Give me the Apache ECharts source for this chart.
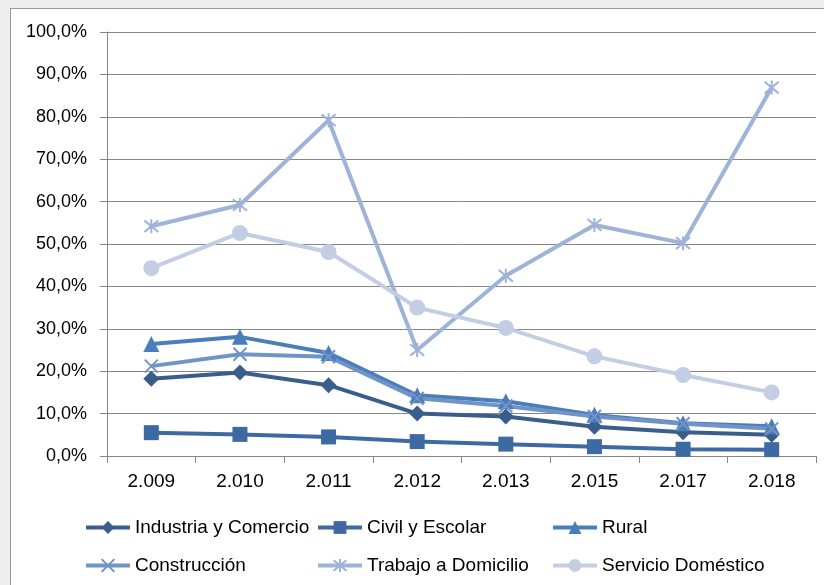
<!DOCTYPE html>
<html>
<head>
<meta charset="utf-8">
<script src="https://cdn.jsdelivr.net/npm/echarts@6/dist/echarts.min.js"></script>
<style>
html,body{margin:0;padding:0;background:#eeeeee;width:824px;height:585px;overflow:hidden;}
#frame{position:absolute;left:10px;top:8px;width:900px;height:700px;background:#ffffff;border:1px solid #9a9a9a;}
#chart{position:absolute;left:0;top:0;width:824px;height:585px;}
</style>
</head>
<body>
<div id="frame"></div>
<div id="chart"></div>
<script>
const categories = ['2.009','2.010','2.011','2.012','2.013','2.015','2.017','2.018'];
const yTicks = [0,10,20,30,40,50,60,70,80,90,100];
const industria = [18.2, 19.7, 16.7, 10.0, 9.3, 6.9, 5.6, 5.0];
const civil = [5.5, 5.1, 4.5, 3.4, 2.8, 2.2, 1.6, 1.5];
const rural = [26.4, 28.1, 24.3, 14.3, 12.9, 9.7, 7.7, 7.0];
const construccion = [21.2, 24.0, 23.4, 13.6, 11.8, 9.3, 7.6, 6.4];
const trabajo = [54.2, 59.2, 79.2, 25.0, 42.5, 54.5, 50.2, 86.9];
const servicio = [44.3, 52.6, 48.1, 35.0, 30.2, 23.5, 19.1, 15.0];
const names = ['Industria y Comercio','Civil y Escolar','Rural','Construcción','Trabajo a Domicilio','Servicio Doméstico'];

const chart = echarts.init(document.getElementById('chart'), null, {renderer:'canvas'});
const FONT = 'Liberation Sans';
const cross = 'path://M0,0L10,10M10,0L0,10';
const star = 'path://M0,0L10,10M10,0L0,10M5,-1L5,11';

function mk(name, data, color, symbol, size, stroke) {
  return {
    name: name, type: 'line', data: data,
    symbol: symbol, symbolSize: size,
    lineStyle: {color: color, width: 4},
    itemStyle: stroke ? {color: color, borderColor: color, borderWidth: 2} : {color: color, borderWidth: 0},
    emphasis: {disabled: true},
    animation: false
  };
}
const seriesDefs = [
  mk(names[0], industria, '#3a5e8c', 'diamond', 16, false),
  mk(names[1], civil, '#3e6aa3', 'rect', 15, false),
  mk(names[2], rural, '#4a7ebb', 'triangle', 16, false),
  mk(names[3], construccion, '#7194c8', cross, 13, true),
  mk(names[4], trabajo, '#9fb2d8', star, 14, true),
  mk(names[5], servicio, '#c3cde3', 'circle', 16, false)
];
const legPos = [[84,518],[316,518],[551,518],[84,556],[316,556],[551,556]];
const legends = names.map((n,i)=>({
  data:[n], left: legPos[i][0], top: legPos[i][1],
  itemWidth: 44, itemHeight: 16, padding: 0,
  lineStyle: {width: 4},
  textStyle:{fontFamily:FONT, fontSize:19, color:'#000'},
  selectedMode:false
}));

chart.setOption({
  backgroundColor: 'transparent',
  animation: false,
  grid: {left:107, right:8, top:32, bottom:129, containLabel:false},
  legend: legends,
  xAxis: {
    type:'category', data: categories, boundaryGap:true,
    axisLine:{show:true, lineStyle:{color:'#868686', width:1}},
    axisTick:{show:true, length:7, alignWithLabel:false, lineStyle:{color:'#868686'}},
    axisLabel:{margin:16, fontFamily:FONT, fontSize:19, color:'#000'},
    splitLine:{show:false}
  },
  yAxis: {
    type:'value', min: yTicks[0], max: yTicks[yTicks.length-1], interval: 10,
    axisLine:{show:true, lineStyle:{color:'#868686', width:1}},
    axisTick:{show:true, length:7, lineStyle:{color:'#868686'}},
    axisLabel:{margin:20, fontFamily:FONT, fontSize:18, color:'#000',
      formatter: v => v.toFixed(1).replace('.', ',') + '%'},
    splitLine:{show:true, lineStyle:{color:'#868686', width:1}}
  },
  series: seriesDefs
});
</script>
</body>
</html>
